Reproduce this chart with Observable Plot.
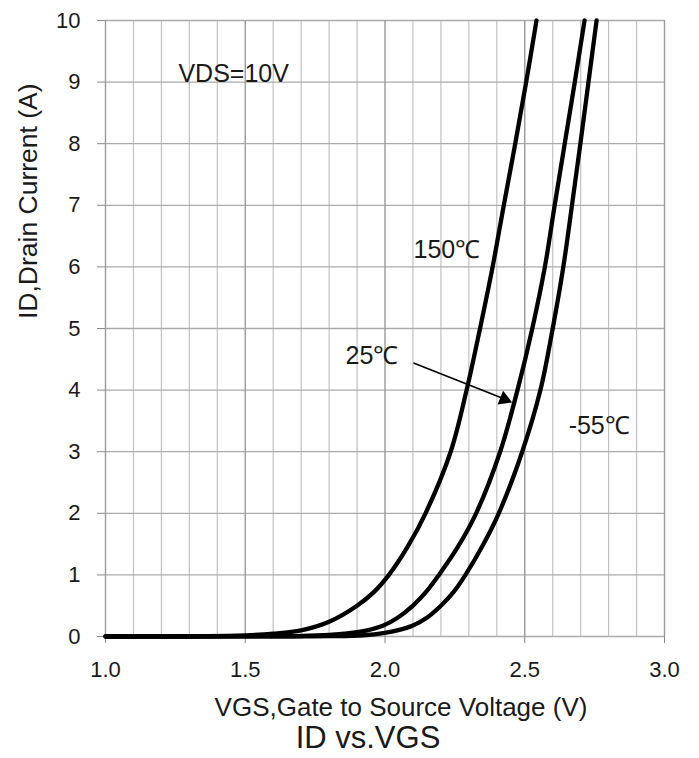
<!DOCTYPE html>
<html>
<head>
<meta charset="utf-8">
<script src="https://cdn.jsdelivr.net/npm/d3@7"></script>
<script src="https://cdn.jsdelivr.net/npm/@observablehq/plot@0.6"></script>
<style>
  html, body { margin: 0; padding: 0; background: #fff; }
  #chart svg { display: block; }
  #title { font-family: "Liberation Sans", Arial, sans-serif; font-size: 31px; line-height: 30px; height: 35px;
           text-align: center; padding-left: 37px; width: 662px; color: #1a1a1a; }
</style>
</head>
<body>
<div id="chart"></div>
<div id="title">ID vs.VGS</div>
<script>
// ---- data ----
const vgs150 = [1.0, 1.3, 1.5, 1.6, 1.7, 1.8, 1.9, 1.96, 2.014, 2.08, 2.145, 2.235, 2.292, 2.34, 2.385, 2.425, 2.466, 2.505, 2.542];
const id150  = [0, 0.004, 0.018, 0.045, 0.1, 0.24, 0.5, 0.72, 1.0, 1.45, 2, 3, 4, 5, 6, 7, 8, 9, 10];

const vgs25 = [1.0, 1.5, 1.7, 1.8, 1.865, 1.936, 1.99, 2.044, 2.1, 2.15, 2.193, 2.26, 2.326, 2.412, 2.474, 2.527, 2.572, 2.607, 2.643, 2.679, 2.714];
const id25  = [0, 0.001, 0.008, 0.025, 0.05, 0.1, 0.17, 0.3, 0.5, 0.74, 1.0, 1.45, 2, 3, 4, 5, 6, 7, 8, 9, 10];

const vgsM55 = [1.0, 1.6, 1.8, 1.924, 2.0, 2.044, 2.1, 2.151, 2.2, 2.245, 2.288, 2.35, 2.407, 2.491, 2.556, 2.6, 2.638, 2.669, 2.699, 2.728, 2.757];
const idM55  = [0, 0.001, 0.005, 0.02, 0.06, 0.1, 0.18, 0.31, 0.5, 0.72, 1.0, 1.48, 2, 3, 4, 5, 6, 7, 8, 9, 10];

const xTicks = [1.0, 1.5, 2.0, 2.5, 3.0];
const xMinorGrid = [1.1, 1.2, 1.3, 1.4, 1.6, 1.7, 1.8, 1.9, 2.1, 2.2, 2.3, 2.4, 2.6, 2.7, 2.8, 2.9];
const yTicks = [0, 1, 2, 3, 4, 5, 6, 7, 8, 9, 10];

const seriesLabels = ["150℃", "25℃", "-55℃"];
const conditionLabel = "VDS=10V";
const xLabel = "VGS,Gate to Source Voltage (V)";
const yLabel = "ID,Drain Current (A)";

// ---- build tables ----
const toRows = (vs, is) => vs.map((v, k) => ({v, i: is[k]}));
const d150 = toRows(vgs150, id150);
const d25 = toRows(vgs25, id25);
const dM55 = toRows(vgsM55, idM55);

const font = "'Liberation Sans', Arial, sans-serif";
const ink = "#1a1a1a";
const lineOpts = {x: "v", y: "i", curve: "catmull-rom", stroke: "#000", strokeWidth: 4.3, strokeLinejoin: "round"};

const chart = Plot.plot({
  width: 699,
  height: 723,
  marginLeft: 105,
  marginRight: 35,
  marginTop: 20,
  marginBottom: 87,
  style: {fontFamily: font, background: "#fff", color: ink, overflow: "visible"},
  x: {domain: [1, 3]},
  y: {domain: [0, 10]},
  marks: [
    Plot.gridX(xMinorGrid, {stroke: "#c2c2c2", strokeOpacity: 1, strokeWidth: 1.2}),
    Plot.gridY(yTicks, {stroke: "#ababab", strokeOpacity: 1, strokeWidth: 1.3}),
    Plot.gridX(xTicks, {stroke: "#9a9a9a", strokeOpacity: 1, strokeWidth: 1.4}),
    Plot.axisX(xTicks, {tickSize: 7, tickPadding: 18, fontSize: 22, tickFormat: d3.format(".1f"), label: null, stroke: "#8a8a8a", fill: ink}),
    Plot.axisY(yTicks, {tickSize: 8, tickPadding: 17, fontSize: 22, tickFormat: d3.format("d"), label: null, stroke: "#8a8a8a", fill: ink}),
    Plot.line(dM55, lineOpts),
    Plot.line(d25, lineOpts),
    Plot.line(d150, lineOpts),
    // annotations
    Plot.text([conditionLabel], {x: 1.261, y: 9.0, text: d => d, textAnchor: "start", lineAnchor: "bottom", fontSize: 25, fill: ink}),
    Plot.text([seriesLabels[0]], {x: 2.102, y: 6.15, text: d => d, textAnchor: "start", lineAnchor: "bottom", fontSize: 25, fill: ink}),
    Plot.text([seriesLabels[1]], {x: 1.859, y: 4.43, text: d => d, textAnchor: "start", lineAnchor: "bottom", fontSize: 25, fill: ink}),
    Plot.text([seriesLabels[2]], {x: 2.657, y: 3.29, text: d => d, textAnchor: "start", lineAnchor: "bottom", fontSize: 25, fill: ink}),
    Plot.link([0], {x1: 2.102, y1: 4.44, x2: 2.43, y2: 3.85, stroke: "#000", strokeWidth: 1.6}),
    Plot.dot([0], {x: 2.455, y: 3.80, symbol: "triangle", r: 5.5, rotate: 112, fill: "#000", stroke: "none", dx: -7.9, dy: -3.2}),
    // axis labels
    Plot.text([xLabel], {frameAnchor: "bottom", text: d => d, dx: 16, dy: 79, lineAnchor: "bottom", fontSize: 26, fill: ink}),
    Plot.text([yLabel], {frameAnchor: "left", text: d => d, dx: -77, dy: -9.5, rotate: -90, lineAnchor: "middle", fontSize: 26.5, fill: ink})
  ]
});
document.getElementById("chart").appendChild(chart);
</script>
</body>
</html>
